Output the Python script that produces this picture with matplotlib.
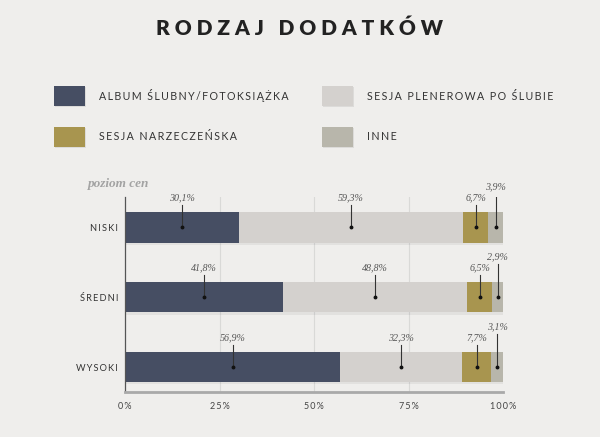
import numpy as np
import matplotlib.pyplot as plt
from matplotlib.patches import Rectangle

# data (percent)
title = "RODZAJ DODATKÓW"
categories = ["NISKI", "ŚREDNI", "WYSOKI"]
series = ["ALBUM ŚLUBNY/FOTOKSIĄŻKA", "SESJA PLENEROWA PO ŚLUBIE",
          "SESJA NARZECZEŃSKA", "INNE"]
album = [30.1, 41.8, 56.9]
plener = [59.3, 48.8, 32.3]
narzecz = [6.7, 6.5, 7.7]
inne = [3.9, 2.9, 3.1]
xticks = [0, 25, 50, 75, 100]
xticklabels = ["0%", "25%", "50%", "75%", "100%"]

colors = ["#464e63", "#d4d1ce", "#a8954f", "#b8b6ab"]
bg = "#efeeec"
SANS = ["Lato", "DejaVu Sans"]
SERIF = ["Liberation Serif", "DejaVu Serif"]


def spaced(s, sep="\u2009"):
    # fake letter spacing
    return sep.join(s)


W, H = 600, 437
fig = plt.figure(figsize=(W / 100, H / 100), dpi=100, facecolor=bg)


def fx(px):
    return px / W


def fy(py):
    return 1 - py / H


ax = fig.add_axes([fx(125), fy(392), fx(503) - fx(125), fy(197) - fy(392)])
ax.set_facecolor(bg)

values = np.array([album, plener, narzecz, inne])
y = np.arange(len(categories))
h = 0.435

left = np.zeros(len(categories))
for vals, c in zip(values, colors):
    # faint shadow under each bar
    ax.barh(y + 0.03, vals, left=left, height=h, color="#000000", alpha=0.05,
            zorder=1, linewidth=0)
    ax.barh(y, vals, left=left, height=h, color=c, zorder=2, linewidth=0)
    left += vals

# value labels with leader lines
left = np.zeros(len(categories))
for k, vals in enumerate(values):
    for i, v in enumerate(vals):
        cx = left[i] + v / 2
        small = k == 3
        ly = y[i] - (0.58 if small else 0.42)
        ax.plot([cx, cx], [ly + 0.1, y[i]], color="#333333", lw=0.8, zorder=3)
        ax.plot(cx, y[i], "o", color="#111111", ms=1.8, zorder=4)
        ax.text(cx, ly, f"{v:.1f}%".replace(".", ","), ha="center", va="center",
                fontsize=7.2, style="italic", family=SERIF, color="#555555",
                zorder=4)
    left += vals

ax.set_xlim(0, 100)
ax.set_ylim(2.357, -0.436)
ax.set_xticks(xticks)
ax.set_xticklabels([spaced(t) for t in xticklabels], family=SANS, fontsize=6.5,
                   color="#444444")
ax.set_yticks(y)
ax.set_yticklabels([spaced(c) for c in categories], family=SANS, fontsize=6.7,
                   color="#333333")
ax.tick_params(length=0, pad=5)
ax.tick_params(axis="x", pad=7)
for x in xticks[1:-1]:
    ax.axvline(x, color="#d9d9d7", lw=0.8, zorder=0)
for s in ["top", "right"]:
    ax.spines[s].set_visible(False)
ax.spines["left"].set_color("#555555")
ax.spines["left"].set_linewidth(0.9)
ax.spines["bottom"].set_color("#a9a9a9")
ax.spines["bottom"].set_linewidth(2)

fig.text(fx(88), fy(184), "poziom cen", ha="left", va="center", fontsize=9.5,
         style="italic", weight="bold", family=SERIF, color="#a3a3a3")

# title
fig.text(0.5, fy(28), spaced(title, " "), ha="center", va="center", fontsize=15,
         weight="heavy", family=SANS, color="#222222")

# legend
leg_pos = [(54, 96), (322, 96), (54, 137), (322, 137)]
for (px, py), name, c in zip(leg_pos, series, colors):
    fig.add_artist(Rectangle((fx(px + 1), fy(py + 11)), fx(31), fy(0) - fy(20),
                             transform=fig.transFigure, color="#000000",
                             alpha=0.08, lw=0))
    fig.add_artist(Rectangle((fx(px), fy(py + 10)), fx(31), fy(0) - fy(20),
                             transform=fig.transFigure, color=c, lw=0))
    fig.text(fx(px + 45), fy(py), spaced(name), ha="left", va="center",
             fontsize=7.7, family=SANS, color="#333333")

fig.savefig("out.png", dpi=100, facecolor=bg)
